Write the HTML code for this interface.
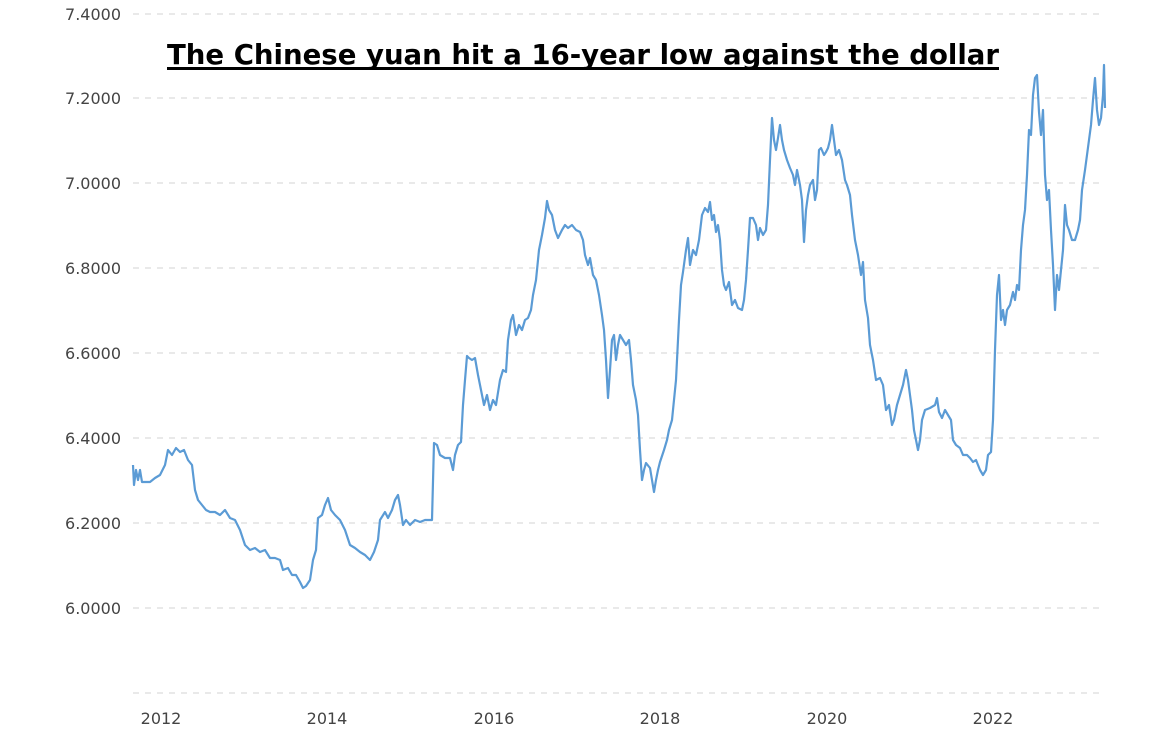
<!DOCTYPE html>
<html><head><meta charset="utf-8"><style>
html,body{margin:0;padding:0;background:#fff;}
svg{display:block;}
</style></head><body>
<svg width="1170" height="729" viewBox="0 0 1170 729" xmlns="http://www.w3.org/2000/svg">
<g stroke="#e2e2e2" stroke-width="1.5" stroke-dasharray="6,6">
<line x1="133" y1="14" x2="1105" y2="14"/>
<line x1="133" y1="98" x2="1105" y2="98"/>
<line x1="133" y1="183" x2="1105" y2="183"/>
<line x1="133" y1="268" x2="1105" y2="268"/>
<line x1="133" y1="353" x2="1105" y2="353"/>
<line x1="133" y1="438" x2="1105" y2="438"/>
<line x1="133" y1="523" x2="1105" y2="523"/>
<line x1="133" y1="608" x2="1105" y2="608"/>
<line x1="133" y1="693" x2="1105" y2="693"/>
</g>
<g font-family="'DejaVu Sans','Liberation Sans',sans-serif" font-size="16" fill="#444" text-anchor="end">
<text x="121" y="20">7.4000</text>
<text x="121" y="104">7.2000</text>
<text x="121" y="189">7.0000</text>
<text x="121" y="274">6.8000</text>
<text x="121" y="359">6.6000</text>
<text x="121" y="444">6.4000</text>
<text x="121" y="529">6.2000</text>
<text x="121" y="614">6.0000</text>
</g>
<g font-family="'DejaVu Sans','Liberation Sans',sans-serif" font-size="16" fill="#444" text-anchor="middle">
<text x="161" y="724">2012</text>
<text x="327" y="724">2014</text>
<text x="494" y="724">2016</text>
<text x="660" y="724">2018</text>
<text x="827" y="724">2020</text>
<text x="993" y="724">2022</text>
</g>
<polyline fill="none" stroke="#5b9bd5" stroke-width="2.2" stroke-linejoin="round" points="133,465 134,485 136,470 138,480 140,470 142,482 150,482 155,478 160,475 165,465 168,450 172,455 176,448 180,452 184,450 188,460 192,465 195,490 198,500 202,505 206,510 210,512 215,512 220,515 225,510 230,518 235,520 240,530 245,545 250,550 255,548 260,552 265,550 270,558 275,558 280,560 283,570 288,568 292,575 296,575 300,582 303,588 306,586 310,580 313,560 316,550 318,518 322,515 325,505 328,498 331,510 335,515 340,520 345,530 350,545 355,548 360,552 365,555 370,560 374,552 378,540 380,520 385,512 388,518 392,510 395,500 398,495 400,505 403,525 406,520 410,525 415,520 420,522 425,520 430,520 432,520 434,443 437,445 440,455 445,458 450,458 453,470 455,455 458,445 461,442 463,405 465,380 467,356 469,358 472,360 475,358 478,375 481,390 484,405 487,395 490,410 493,400 496,405 500,380 503,370 506,372 508,340 511,320 513,315 516,335 519,325 522,330 525,320 528,318 531,310 533,295 536,280 539,250 542,235 545,218 547,201 549,210 552,215 555,230 558,238 562,230 565,225 568,228 572,225 576,230 580,232 583,240 585,255 588,265 590,258 593,275 596,280 599,295 602,315 604,330 606,360 608,398 610,370 612,340 614,335 616,360 618,345 620,335 623,340 626,345 629,340 631,360 633,385 636,400 638,415 640,450 642,480 644,470 646,463 650,468 652,480 654,492 656,480 658,470 660,462 664,450 667,440 669,430 672,420 676,380 679,320 681,285 683,272 686,250 688,238 690,265 693,250 696,255 699,240 702,215 705,208 708,212 710,202 712,220 714,215 716,232 718,225 720,240 722,270 724,285 726,290 729,282 732,305 735,300 738,308 742,310 744,300 746,280 748,250 750,218 753,218 756,225 758,240 760,228 763,235 766,230 768,205 770,160 772,118 774,140 776,150 778,138 780,125 782,140 784,150 787,160 790,168 793,175 795,185 797,170 800,185 802,200 804,242 806,210 808,195 810,185 813,180 815,200 817,190 819,150 821,148 824,155 826,152 828,148 830,140 832,125 834,140 836,155 839,150 842,160 845,180 847,185 850,195 852,215 855,240 858,255 861,275 863,262 865,300 868,318 870,345 873,360 876,380 880,378 883,385 886,410 889,405 892,425 894,420 897,405 900,395 903,385 906,370 908,380 910,395 912,410 914,430 916,440 918,450 920,440 922,420 925,410 930,408 935,405 937,398 939,412 942,418 945,410 948,415 951,420 953,440 956,445 960,448 963,455 967,455 970,458 973,462 976,460 980,470 983,475 986,470 988,455 991,452 993,420 995,350 997,295 999,275 1001,320 1003,310 1005,325 1007,310 1010,305 1013,292 1015,300 1017,285 1019,290 1021,250 1023,225 1025,210 1027,175 1029,130 1031,135 1033,95 1035,78 1037,75 1039,112 1041,135 1043,110 1045,175 1047,200 1049,190 1051,230 1053,265 1055,310 1057,275 1059,290 1061,270 1063,250 1065,205 1067,225 1069,230 1072,240 1075,240 1078,230 1080,220 1082,190 1085,170 1087,155 1089,140 1091,125 1093,100 1095,78 1097,110 1099,125 1101,118 1103,95 1104,65 1105,108"/>
<text x="583" y="64" text-anchor="middle" font-family="'DejaVu Sans','Liberation Sans',sans-serif" font-weight="bold" font-size="28" fill="#000" textLength="832" lengthAdjust="spacingAndGlyphs">The Chinese yuan hit a 16-year low against the dollar</text>
<rect x="167" y="67" width="832" height="3" fill="#000"/>
</svg>
</body></html>
